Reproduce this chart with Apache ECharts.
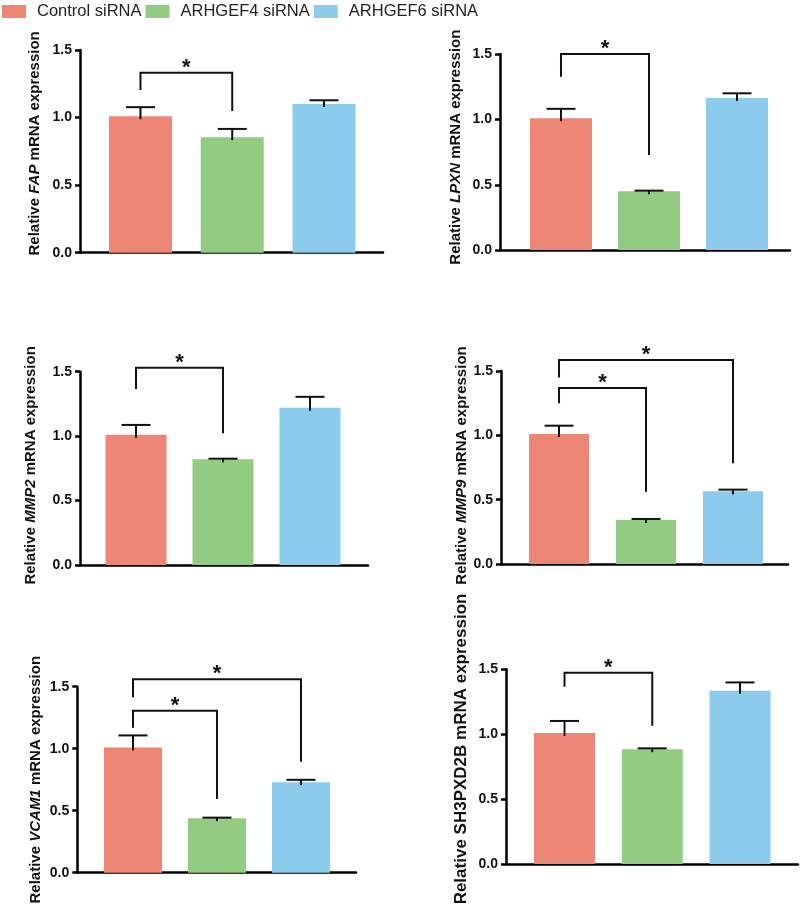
<!DOCTYPE html>
<html>
<head>
<meta charset="utf-8">
<script src="https://cdn.jsdelivr.net/npm/echarts@6/dist/echarts.min.js"></script>
<style>html,body{margin:0;padding:0;background:#fff}#c{width:800px;height:911px}</style>
</head>
<body>
<div id="c"></div>
<script>
// ---- data ----
const groups = ['Control siRNA', 'ARHGEF4 siRNA', 'ARHGEF6 siRNA'];
const genes = ['FAP', 'LPXN', 'MMP2', 'MMP9', 'VCAM1', 'SH3PXD2B'];
const geneItalic = [true, true, true, true, true, false];
const yTicks = [0, 0.5, 1.0, 1.5];

const meanFAP = [1.01, 0.855, 1.10];
const errFAP = [0.067, 0.061, 0.028];
const meanLPXN = [1.01, 0.45, 1.165];
const errLPXN = [0.072, 0.005, 0.036];
const meanMMP2 = [1.01, 0.82, 1.22];
const errMMP2 = [0.077, 0.005, 0.085];
const meanMMP9 = [1.01, 0.342, 0.565];
const errMMP9 = [0.065, 0.008, 0.013];
const meanVCAM1 = [1.01, 0.44, 0.73];
const errVCAM1 = [0.097, 0.004, 0.019];
const meanSH3 = [1.01, 0.885, 1.335];
const errSH3 = [0.092, 0.006, 0.064];

// brackets: [fromGroup, toGroup, leftEnd, top, rightEnd]
const sigFAP = [[0, 1, 1.204, 1.332, 1.049]];
const sigLPXN = [[0, 1, 1.328, 1.503, 0.728]];
const sigMMP2 = [[0, 1, 1.366, 1.531, 1.022]];
const sigMMP9 = [[0, 1, 1.249, 1.368, 0.562], [0, 2, 1.45, 1.585, 0.783]];
const sigVCAM1 = [[0, 1, 1.169, 1.306, 0.594], [0, 2, 1.414, 1.56, 0.895]];
const sigSH3 = [[0, 1, 1.366, 1.474, 1.066]];

const means = [meanFAP, meanLPXN, meanMMP2, meanMMP9, meanVCAM1, meanSH3];
const errs = [errFAP, errLPXN, errMMP2, errMMP9, errVCAM1, errSH3];
const sigs = [sigFAP, sigLPXN, sigMMP2, sigMMP9, sigVCAM1, sigSH3];

// ---- layout / style ----
const colors = ['#EE8676', '#94CB82', '#8CCBEC'];
const FONT = '"Liberation Sans", Arial, sans-serif';
const layout = [
  {left: 80, top: 50, width: 303, height: 202.7, xmin: -0.659, xmax: 2.643, bw: 63, gap: 38, shift: 8, fs: 15},
  {left: 500, top: 54.3, width: 290, height: 195.7, xmin: -0.693, xmax: 2.602, bw: 62, gap: 37, shift: 5, fs: 15},
  {left: 80, top: 371.7, width: 288, height: 193.3, xmin: -0.644, xmax: 2.667, bw: 61, gap: 42, shift: 3, fs: 15},
  {left: 501, top: 371, width: 287, height: 193, xmin: -0.667, xmax: 2.632, bw: 60, gap: 29, shift: 2, fs: 15},
  {left: 77.3, top: 686.7, width: 278.7, height: 186, xmin: -0.663, xmax: 2.655, bw: 58, gap: 34, shift: 0, fs: 15},
  {left: 506, top: 669.3, width: 292, height: 194.7, xmin: -0.667, xmax: 2.661, bw: 61, gap: 36, shift: 17.7, fs: 17}
];

const grids = [], xAxes = [], yAxes = [], series = [];
layout.forEach((L, p) => {
  grids.push({left: L.left, top: L.top, width: L.width, height: L.height, containLabel: false, outerBoundsMode: 'none'});
  xAxes.push({
    gridIndex: p, type: 'value', min: L.xmin, max: L.xmax,
    axisLine: {show: true, onZero: false, lineStyle: {color: '#000', width: 2.5}},
    axisTick: {show: false}, axisLabel: {show: false}, splitLine: {show: false}
  });
  const g = genes[p];
  const nm = geneItalic[p] ? `{n|Relative }{i|${g}}{n| mRNA expression}` : `{n|Relative ${g} mRNA expression}`;
  yAxes.push({
    gridIndex: p, type: 'value', min: yTicks[0], max: yTicks[yTicks.length - 1], interval: 0.5,
    axisLine: {show: true, onZero: false, lineStyle: {color: '#000', width: 2.5}},
    axisTick: {show: true, length: 5, lineStyle: {color: '#000', width: 2.5}},
    axisLabel: {margin: 8, color: '#111', fontSize: 14, fontWeight: 'bold', fontFamily: FONT,
      formatter: v => v.toFixed(1)},
    splitLine: {show: false},
    name: nm, nameLocation: 'middle', nameGap: L.gap, nameRotate: 90,
    nameTextStyle: {
      color: '#111', fontSize: L.fs, fontWeight: 'bold', fontFamily: FONT,
      padding: [0, 0, 0, 2 * L.shift],
      rich: {
        n: {fontSize: L.fs, fontWeight: 'bold', fontFamily: FONT, color: '#111'},
        i: {fontSize: L.fs, fontWeight: 'bold', fontStyle: 'italic', fontFamily: FONT, color: '#111'}
      }
    }
  });
  groups.forEach((name, gi) => {
    series.push({
      name: name, type: 'bar', xAxisIndex: p, yAxisIndex: p,
      barWidth: L.bw, barGap: '-100%',
      itemStyle: {color: colors[gi]},
      data: [[gi, means[p][gi]]],
      silent: true, animation: false
    });
  });
  series.push({
    type: 'custom', xAxisIndex: p, yAxisIndex: p, silent: true, animation: false, z: 5,
    data: means[p].map((m, gi) => [gi, m, errs[p][gi]]),
    renderItem: (params, api) => {
      const x = api.value(0), m = api.value(1), e = api.value(2);
      const a = api.coord([x, m]), b = api.coord([x, m + e]);
      return {type: 'group', children: [
        {type: 'line', shape: {x1: a[0], y1: a[1] + 3, x2: b[0], y2: b[1]}, style: {stroke: '#111', lineWidth: 2}},
        {type: 'line', shape: {x1: b[0] - 14.5, y1: b[1], x2: b[0] + 14.5, y2: b[1]}, style: {stroke: '#111', lineWidth: 2}}
      ]};
    }
  });
  series.push({
    type: 'custom', xAxisIndex: p, yAxisIndex: p, silent: true, animation: false, z: 5, clip: false,
    data: sigs[p],
    renderItem: (params, api) => {
      const x1 = api.value(0), x2 = api.value(1);
      const pL = api.coord([x1, api.value(2)]);
      const pTL = api.coord([x1, api.value(3)]);
      const pTR = api.coord([x2, api.value(3)]);
      const pR = api.coord([x2, api.value(4)]);
      return {type: 'group', children: [
        {type: 'polyline', shape: {points: [pL, pTL, pTR, pR]}, style: {stroke: '#111', lineWidth: 2, fill: null}},
        {type: 'text', x: (pTL[0] + pTR[0]) / 2, y: pTL[1] + 6,
          style: {text: '*', fill: '#111', font: 'bold 22px ' + FONT, align: 'center', verticalAlign: 'bottom'}}
      ]};
    }
  });
});

const chart = echarts.init(document.getElementById('c'), null, {renderer: 'canvas'});
chart.setOption({
  animation: false,
  backgroundColor: '#fff',
  legend: {
    data: groups, left: 2, top: 3, padding: 0, itemWidth: 24, itemHeight: 13, itemGap: 4, icon: 'rect',
    selectedMode: false,
    textStyle: {fontSize: 16.5, color: '#222', fontFamily: FONT, padding: [0, 0, 0, 6]}
  },
  grid: grids, xAxis: xAxes, yAxis: yAxes, series: series
});
</script>
</body>
</html>
